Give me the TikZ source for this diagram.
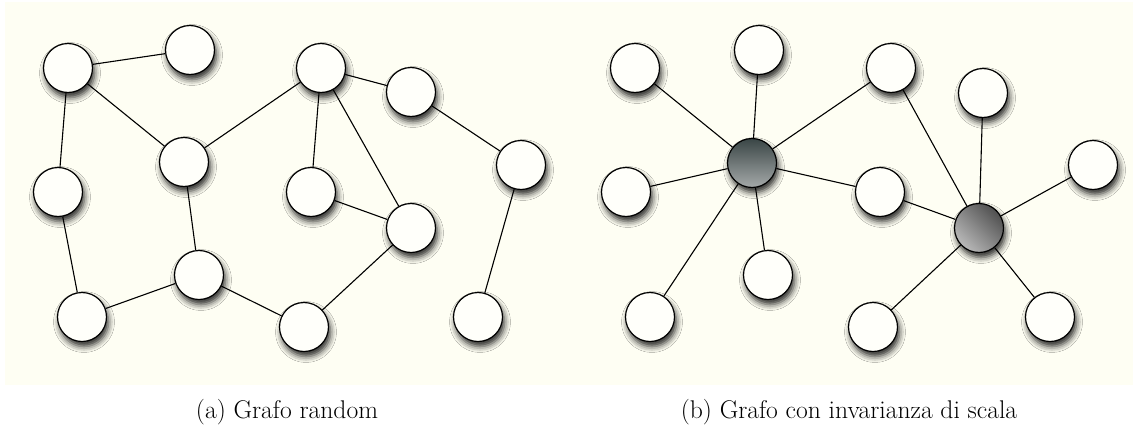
\documentclass[tikz,border=0pt]{standalone}
\usetikzlibrary{shadows.blur}
\pgfdeclarelayer{background}
\pgfsetlayers{background,main}

\definecolor{paper}{RGB}{254,254,243}
\definecolor{disc}{RGB}{255,255,250}
\definecolor{hubAtop}{RGB}{58,70,70}
\definecolor{hubAbot}{RGB}{165,169,169}
\definecolor{hubBtop}{RGB}{80,80,80}
\definecolor{hubBbot}{RGB}{185,185,185}

\tikzset{
  vertex/.style={circle, draw=black, line width=1.2pt, fill=disc,
    minimum size=49pt, inner sep=0pt,
    blur shadow={shadow xshift=2pt, shadow yshift=-5pt,
      shadow blur radius=6pt, shadow opacity=85}},
  hubA/.style={vertex, top color=hubAtop, bottom color=hubAbot},
  hubB/.style={vertex, top color=hubBtop, bottom color=hubBbot, shading angle=-45},
  link/.style={line width=1.1pt, black},
  caption/.style={anchor=base, inner sep=0pt, font=\fontsize{25.6}{30}\selectfont}
}

\begin{document}
\begin{tikzpicture}[x=1pt, y=-1pt]
\useasboundingbox (0,0) rectangle (1133,426);

% ---- random graph ----
\node[vertex] (r1)  at (68,68)   {};
\node[vertex] (r2)  at (190,50)  {};
\node[vertex] (r3)  at (321,68)  {};
\node[vertex] (r4)  at (411,92)  {};
\node[vertex] (r5)  at (184,162) {};
\node[vertex] (r6)  at (58,192)  {};
\node[vertex] (r7)  at (311,192) {};
\node[vertex] (r8)  at (521,165) {};
\node[vertex] (r9)  at (411,228) {};
\node[vertex] (r10) at (199,275) {};
\node[vertex] (r11) at (82,317)  {};
\node[vertex] (r12) at (304,327) {};
\node[vertex] (r13) at (478,317) {};

% ---- scale-free graph ----
\node[hubA]   (h1) at (752,163)  {};
\node[hubB]   (h2) at (979,228)  {};
\node[vertex] (s1) at (635,68)   {};
\node[vertex] (s2) at (759,50)   {};
\node[vertex] (s3) at (891,68)   {};
\node[vertex] (s4) at (983,93)   {};
\node[vertex] (s5) at (1093,165) {};
\node[vertex] (s6) at (626,192)  {};
\node[vertex] (s7) at (880,192)  {};
\node[vertex] (s8) at (768,275)  {};
\node[vertex] (s9) at (650,317)  {};
\node[vertex] (s10) at (873,327) {};
\node[vertex] (s11) at (1050,317) {};

\begin{pgfonlayer}{background}
  \fill[paper] (5,2) rectangle (1133,385);
  \draw[link] (r1) -- (r2);
  \draw[link] (r1) -- (r6);
  \draw[link] (r1) -- (r5);
  \draw[link] (r5) -- (r3);
  \draw[link] (r5) -- (r10);
  \draw[link] (r6) -- (r11);
  \draw[link] (r11) -- (r10);
  \draw[link] (r10) -- (r12);
  \draw[link] (r12) -- (r9);
  \draw[link] (r3) -- (r7);
  \draw[link] (r3) -- (r9);
  \draw[link] (r3) -- (r4);
  \draw[link] (r7) -- (r9);
  \draw[link] (r4) -- (r8);
  \draw[link] (r8) -- (r13);

  \foreach \n in {s1,s2,s3,s6,s7,s8,s9}
    \draw[link] (h1) -- (\n);
  \foreach \n in {s3,s4,s5,s7,s10,s11}
    \draw[link] (h2) -- (\n);
\end{pgfonlayer}

\node[caption] (capA) at (287,418) {(a) Grafo random};
\node[caption] (capB) at (849,418) {(b) Grafo con invarianza di scala};
\end{tikzpicture}
\end{document}
